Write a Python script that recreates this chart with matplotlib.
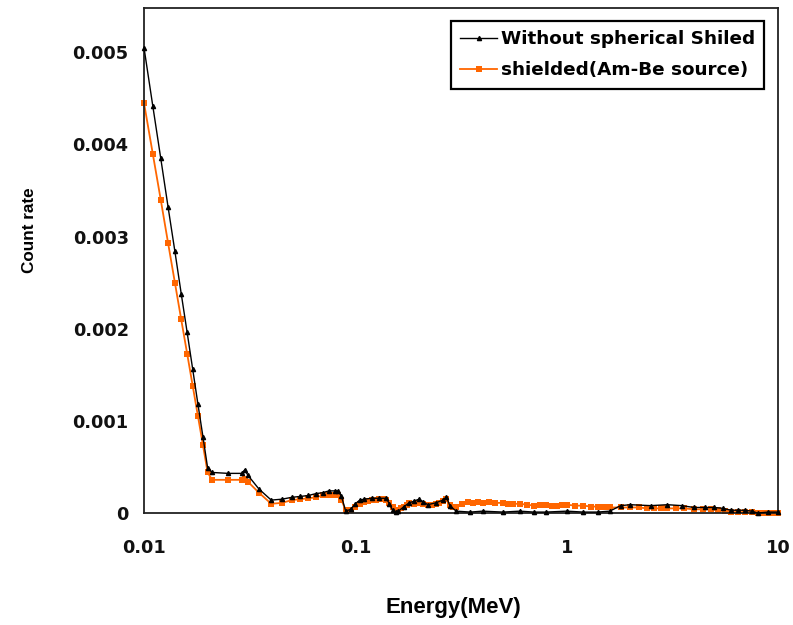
import matplotlib
matplotlib.use("Agg")
import matplotlib.pyplot as plt

# ---- data ----
energy_black = [0.010, 0.011, 0.012, 0.013, 0.014, 0.015, 0.016, 0.017, 0.018, 0.019,
                0.020, 0.021, 0.025, 0.029, 0.030, 0.031, 0.035, 0.040, 0.045, 0.050,
                0.055, 0.060, 0.065, 0.070, 0.075, 0.080, 0.083, 0.086, 0.090, 0.095,
                0.100, 0.105, 0.110, 0.120, 0.130, 0.140, 0.145, 0.150, 0.155, 0.160,
                0.170, 0.180, 0.190, 0.200, 0.210, 0.220, 0.240, 0.260, 0.270, 0.280,
                0.300, 0.35, 0.40, 0.50, 0.60, 0.70, 0.80, 1.0, 1.2, 1.4,
                1.6, 1.8, 2.0, 2.5, 3.0, 3.5, 4.0, 4.5, 5.0, 5.5,
                6.0, 6.5, 7.0, 7.5, 8.0, 9.0, 10.0]
count_black = [0.00505, 0.00442, 0.00385, 0.00332, 0.00284, 0.00238, 0.00196, 0.00156, 0.00118, 0.00083,
               0.00049, 0.00044, 0.00043, 0.00043, 0.00047, 0.00041, 0.00026, 0.00014, 0.00015, 0.00017,
               0.00018, 0.00019, 0.00021, 0.00022, 0.00024, 0.00024, 0.00024, 0.00018, 0.00002, 0.00004,
               0.00010, 0.00014, 0.00015, 0.00016, 0.00016, 0.00016, 0.00010, 0.00003, 0.00001, 0.00002,
               0.00007, 0.00011, 0.00013, 0.00015, 0.00012, 0.00009, 0.00011, 0.00014, 0.00017, 0.00008,
               0.00002, 0.00001, 0.00002, 0.00001, 0.00002, 0.00001, 0.00001, 0.00002, 0.00001, 0.00001,
               0.00002, 0.00008, 0.00009, 0.00008, 0.00009, 0.00008, 0.00006, 0.00006, 0.00006, 0.00005,
               0.00003, 0.00003, 0.00003, 0.00002, 0.00000, 0.00001, 0.00001]

energy_orange = [0.010, 0.011, 0.012, 0.013, 0.014, 0.015, 0.016, 0.017, 0.018, 0.019,
                 0.020, 0.021, 0.025, 0.029, 0.030, 0.031, 0.035, 0.040, 0.045, 0.050,
                 0.055, 0.060, 0.065, 0.070, 0.075, 0.080, 0.083, 0.086, 0.090, 0.095,
                 0.100, 0.105, 0.110, 0.115, 0.120, 0.125, 0.130, 0.135, 0.140, 0.145,
                 0.150, 0.155, 0.160, 0.165, 0.170, 0.175, 0.180, 0.190, 0.200, 0.210,
                 0.220, 0.230, 0.240, 0.250, 0.260, 0.270, 0.280, 0.290, 0.300, 0.320,
                 0.340, 0.360, 0.380, 0.400, 0.430, 0.460, 0.500, 0.530, 0.560, 0.600,
                 0.650, 0.700, 0.750, 0.800, 0.850, 0.900, 0.950, 1.000, 1.100, 1.200,
                 1.300, 1.400, 1.500, 1.600, 1.800, 2.000, 2.200, 2.400, 2.600, 2.800,
                 3.000, 3.300, 3.600, 4.000, 4.400, 4.800, 5.200, 5.600, 6.000, 6.500,
                 7.000, 7.500, 8.000, 8.500, 9.000, 9.500, 10.00]
count_orange = [0.00445, 0.00390, 0.00340, 0.00293, 0.00250, 0.00210, 0.00173, 0.00138, 0.00105, 0.00074,
                0.00044, 0.00036, 0.00036, 0.00036, 0.00037, 0.00034, 0.00022, 0.00010, 0.00011, 0.00014,
                0.00015, 0.00016, 0.00017, 0.00019, 0.00020, 0.00020, 0.00019, 0.00014, 0.00003, 0.00003,
                0.00006, 0.00010, 0.00012, 0.00013, 0.00014, 0.00014, 0.00015, 0.00015, 0.00014, 0.00011,
                0.00006, 0.00003, 0.00003, 0.00005, 0.00007, 0.00009, 0.00011, 0.00010, 0.00011, 0.00010,
                0.00009, 0.00009, 0.00010, 0.00011, 0.00013, 0.00015, 0.00009, 0.00006, 0.00006, 0.00010,
                0.00012, 0.00011, 0.00012, 0.00011, 0.00012, 0.00011, 0.00011, 0.00010, 0.00010, 0.00010,
                0.00009, 0.00008, 0.00009, 0.00009, 0.00008, 0.00008, 0.00009, 0.00009, 0.00008, 0.00008,
                0.00007, 0.00007, 0.00006, 0.00006, 0.00006, 0.00006, 0.00006, 0.00005, 0.00005, 0.00005,
                0.00005, 0.00005, 0.00005, 0.00004, 0.00004, 0.00004, 0.00003, 0.00002, 0.00001, 0.00001,
                0.00001, 0.00001, 0.00000, 0.00000, 0.00000, 0.00000, 0.00000]

x_ticks = [0.01, 0.1, 1, 10]
x_tick_labels = ["0.01", "0.1", "1", "10"]
y_ticks = [0, 0.001, 0.002, 0.003, 0.004, 0.005]
y_tick_labels = ["0", "0.001", "0.002", "0.003", "0.004", "0.005"]

label_black = "Without spherical Shiled"
label_orange = "shielded(Am-Be source)"
orange = "#FF6600"

# ---- figure ----
fig = plt.figure(figsize=(7.93, 6.25), dpi=100)
ax = fig.add_axes([144 / 793, 1 - 513 / 625, (778 - 144) / 793, (513 - 8) / 625])

ax.plot(energy_black, count_black, color="black", lw=1.0, marker="^", markersize=3,
        label=label_black, clip_on=False, zorder=3)
ax.plot(energy_orange, count_orange, color=orange, lw=1.3, marker="s", markersize=4,
        markeredgewidth=0, label=label_orange, clip_on=False, zorder=2)

ax.set_xscale("log")
ax.set_xlim(0.01, 10)
ax.set_ylim(0, 0.00548)
ax.set_xticks(x_ticks)
ax.set_xticklabels(x_tick_labels)
ax.minorticks_off()
ax.set_yticks(y_ticks)
ax.set_yticklabels(y_tick_labels)
ax.tick_params(axis="both", length=0)
ax.tick_params(axis="x", pad=19)
ax.tick_params(axis="y", pad=11)
for lab in ax.get_xticklabels() + ax.get_yticklabels():
    lab.set_fontfamily("DejaVu Sans")
    lab.set_fontweight("bold")
    lab.set_fontsize(12.8)
    lab.set_color("#111111")

for sp in ax.spines.values():
    sp.set_linewidth(1.3)
    sp.set_color("#222222")

fig.text(453 / 793, 1 - 607 / 625, "Energy(MeV)", ha="center", va="center",
         fontsize=16, fontweight="bold", family="Liberation Sans")
fig.text(30 / 793, 1 - 230 / 625, "Count rate", ha="center", va="center", rotation=90,
         fontsize=12.3, fontweight="bold", family="Liberation Sans")

leg = ax.legend(loc="upper right", bbox_to_anchor=((764 - 144) / 634, (513 - 21) / 505),
                prop={"family": "DejaVu Sans", "weight": "bold", "size": 13.2},
                frameon=True, fancybox=False, framealpha=1, edgecolor="black",
                handlelength=2.0, handletextpad=0.2, labelspacing=0.72,
                borderpad=0.5, borderaxespad=0)
leg.get_frame().set_linewidth(1.6)

fig.savefig("out.png", dpi=100)
